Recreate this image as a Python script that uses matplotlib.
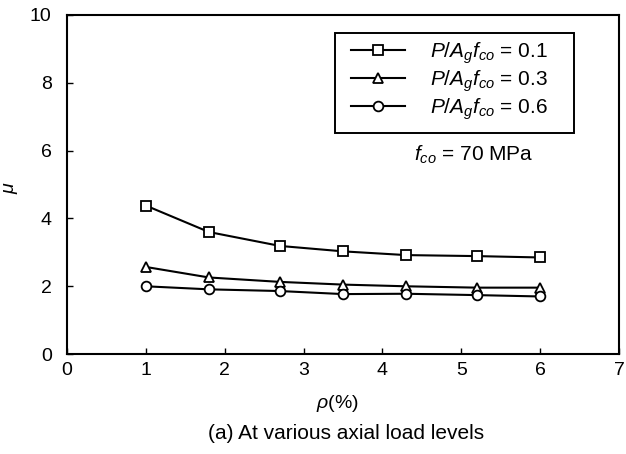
import matplotlib.pyplot as plt
from matplotlib.patches import Rectangle

plt.rcParams['font.family'] = ['Liberation Sans', 'DejaVu Sans']
plt.rcParams['mathtext.fontset'] = 'custom'
plt.rcParams['mathtext.rm'] = 'Liberation Sans'
plt.rcParams['mathtext.it'] = 'Liberation Sans:italic'

rho = [1.0, 1.8, 2.7, 3.5, 4.3, 5.2, 6.0]
mu_01 = [4.38, 3.6, 3.19, 3.03, 2.92, 2.89, 2.85]
mu_03 = [2.57, 2.26, 2.13, 2.05, 2.0, 1.96, 1.96]
mu_06 = [2.0, 1.91, 1.86, 1.77, 1.78, 1.74, 1.70]
labels = [r'$P/A_gf_{co}$ = 0.1', r'$P/A_gf_{co}$ = 0.3', r'$P/A_gf_{co}$ = 0.6']

fig = plt.figure(figsize=(6.26, 4.54), dpi=100)
ax = fig.add_axes([0.107, 0.22, 0.882, 0.747])

style = dict(color='black', lw=1.5, markerfacecolor='white', markeredgecolor='black',
             markeredgewidth=1.3, markersize=7)
ax.plot(rho, mu_01, marker='s', label=labels[0], **style)
ax.plot(rho, mu_03, marker='^', label=labels[1], **style)
ax.plot(rho, mu_06, marker='o', label=labels[2], **style)

ax.set_xlim(0, 7)
ax.set_ylim(0, 10)
ax.set_xticks(range(0, 8))
ax.set_yticks(range(0, 11, 2))
ax.tick_params(direction='in', labelsize=14, length=4, width=1)
ax.tick_params(axis='x', pad=6)
ax.tick_params(axis='y', pad=11)
for s in ax.spines.values():
    s.set_linewidth(1.5)

ax.set_xlabel(r'$\rho$(%)', fontsize=14)
ax.xaxis.set_label_coords(0.49, -0.145)
ax.xaxis.label.set_verticalalignment('center')
ax.set_ylabel(r'$\mu$', fontsize=14)
ax.yaxis.set_label_coords(-0.085, 0.49)

# legend without its own frame, box drawn separately for the wider padding
leg = ax.legend(loc='upper left', bbox_to_anchor=(0.515, 0.925), fontsize=15,
                frameon=False, handlelength=2.6, borderpad=0, labelspacing=0.12,
                handletextpad=1.2, borderaxespad=0)
ax.add_patch(Rectangle((0.4846, 0.652), 0.434, 0.295, transform=ax.transAxes,
                       fill=False, edgecolor='black', lw=1.4, zorder=5))

ax.text(0.629, 0.587, r'$f_{co}$ = 70 MPa', transform=ax.transAxes, fontsize=15,
        va='center')

fig.text(0.553, 0.045, '(a) At various axial load levels', ha='center', va='center',
         fontsize=15)

fig.savefig('out.png', dpi=100)
